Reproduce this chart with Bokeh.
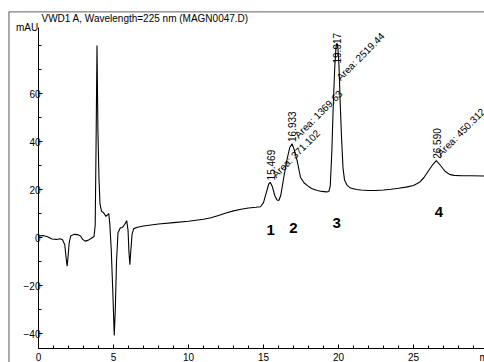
import math
from bokeh.plotting import figure
from bokeh.models import ColumnDataSource, LinearAxis, Range1d, FixedTicker, Label, Span
from bokeh.core.properties import value
from bokeh.embed import file_html
from bokeh.resources import INLINE

# ---- data ----
time_min = [0.0, 0.3, 0.6, 0.9, 1.2, 1.45, 1.6, 1.75, 1.85, 1.91,
            1.97, 2.05, 2.15, 2.35, 2.6, 2.8, 2.95, 3.1, 3.3, 3.5,
            3.7, 3.78, 3.84, 3.9, 3.96, 4.03, 4.1, 4.2, 4.35, 4.5,
            4.6, 4.68, 4.75, 4.85, 4.95, 5.05, 5.12, 5.2, 5.3, 5.45,
            5.6, 5.75, 5.88, 5.97, 6.03, 6.09, 6.16, 6.24, 6.35, 6.6,
            7.0, 8.0, 9.0, 10.0, 11.0, 11.5, 12.0, 12.5, 13.0, 13.5,
            14.0, 14.5, 14.8, 15.0, 15.2, 15.35, 15.45, 15.6, 15.75, 15.9,
            16.02, 16.15, 16.35, 16.55, 16.75, 16.91, 17.05, 17.24, 17.47, 17.7,
            17.91, 18.2, 18.58, 18.9, 19.2, 19.36, 19.45, 19.55, 19.65, 19.75,
            19.83, 19.89, 19.95, 20.03, 20.12, 20.2, 20.3, 20.4, 20.58, 20.8,
            21.2, 21.5, 22.0, 22.5, 23.0, 23.5, 24.0, 24.5, 25.0, 25.4,
            25.7, 26.0, 26.3, 26.52, 26.8, 27.1, 27.4, 27.7, 28.2, 28.8,
            29.73]
signal_mau = [0.6, 0.8, 0.3, -0.6, -0.8, -0.5, -0.9, -3.0, -9.0, -12.0,
              -8.0, -2.0, 0.6, 1.3, 1.2, 0.6, -0.8, -1.5, -1.2, -0.4,
              0.4, 5.0, 40.0, 80.0, 45.0, 25.0, 14.0, 11.0, 10.2, 8.8,
              9.4, 10.0, 6.0, -5.0, -22.0, -40.8, -30.0, -10.0, 2.0, 4.0,
              4.2, 5.5, 7.0, 3.0, -6.0, -11.3, -5.0, 1.5, 3.7, 4.3,
              4.8, 5.6, 6.2, 6.8, 7.6, 8.2, 9.2, 10.2, 11.1, 11.8,
              12.3, 12.6, 12.8, 14.5, 19.0, 22.3, 23.0, 21.0, 17.5, 15.6,
              15.4, 17.5, 25.0, 32.0, 37.5, 39.0, 36.5, 32.0, 25.0, 22.8,
              21.7, 20.4, 19.6, 19.2, 19.0, 19.2, 21.5, 35.0, 55.0, 71.0,
              79.0, 81.0, 80.0, 72.0, 55.0, 42.0, 29.0, 24.0, 21.7, 20.6,
              20.0, 19.8, 19.6, 19.6, 19.8, 20.1, 20.5, 21.0, 21.7, 23.0,
              25.0, 27.8, 30.5, 32.0, 30.0, 27.6, 26.3, 25.9, 25.7, 25.7,
              25.6]

peak_numbers = ["1", "2", "3", "4"]
peak_rt = [15.469, 16.933, 19.917, 26.590]
peak_area = [371.102, 1369.63, 2519.44, 450.312]

x_ticks = [0, 5, 10, 15, 20, 25]
y_ticks = [-40, -20, 0, 20, 40, 60]

title_text = "VWD1 A, Wavelength=225 nm (MAGN0047.D)"
y_unit = "mAU"
x_unit = "min"

# ---- annotation placement (layout, not data) ----
rt_label_y = [23.8, 39.8, 72.5, 32.8]
area_label_x = [15.95, 17.45, 20.25, 26.95]
area_label_y = [24.0, 40.5, 64.5, 33.0]
number_x = [15.47, 16.99, 19.87, 26.7]
number_y = [3.3, 4.0, 6.0, 10.8]

FONT = "Liberation Sans"
X_LO, X_HI = -2.0, 29.733
Y_LO, Y_HI = -52.083, 94.167
X_AXIS_AT = -46.25
Y_AXIS_TOP = 87.5

p = figure(width=484, height=362, output_backend="svg", toolbar_location=None,
           x_range=Range1d(X_LO, X_HI), y_range=Range1d(Y_LO, Y_HI),
           x_axis_location=None, y_axis_location=None, tools="")
p.min_border_left = 8
p.min_border_right = 0
p.min_border_bottom = 0
p.min_border_top = 11
p.outline_line_color = None
p.background_fill_color = "white"
p.border_fill_color = "white"
p.xgrid.visible = False
p.ygrid.visible = False

xaxis = LinearAxis(fixed_location=X_AXIS_AT, bounds=(0, X_HI),
                   ticker=FixedTicker(ticks=x_ticks, minor_ticks=list(range(0, 30))))
yaxis = LinearAxis(fixed_location=0, bounds=(X_AXIS_AT, Y_AXIS_TOP),
                   ticker=FixedTicker(ticks=y_ticks, minor_ticks=list(range(-40, 90, 10))))
for ax in (xaxis, yaxis):
    ax.axis_line_color = "black"
    ax.major_tick_line_color = "black"
    ax.minor_tick_line_color = "black"
    ax.major_tick_in = 4
    ax.major_tick_out = 0
    ax.minor_tick_in = 3
    ax.minor_tick_out = 0
    ax.major_label_text_font = FONT
    ax.major_label_text_font_size = "10px"
    ax.major_label_text_color = "black"
xaxis.major_label_standoff = 4
yaxis.major_label_standoff = -2
p.add_layout(xaxis, "below")
p.add_layout(yaxis, "left")

# outer frame (top and left edges)
p.add_layout(Span(location=X_LO + 0.02, dimension="height", line_color="black", line_width=1))
p.add_layout(Span(location=Y_HI - 0.1, dimension="width", line_color="black", line_width=1))

p.line(time_min, signal_mau, line_color="black", line_width=1.1)

rt_src = ColumnDataSource(dict(x=peak_rt, y=rt_label_y, t=[f"{v:.3f}" for v in peak_rt]))
p.text(x="x", y="y", text="t", source=rt_src, angle=math.pi / 2,
       text_align="left", text_baseline="middle", text_font=value(FONT),
       text_font_size="10px", text_color="black")

area_src = ColumnDataSource(dict(x=area_label_x, y=area_label_y,
                                 t=[f"Area: {v:g}" for v in peak_area]))
p.text(x="x", y="y", text="t", source=area_src, angle=math.pi / 4,
       text_align="left", text_baseline="bottom", text_font=value(FONT),
       text_font_size="10px", text_color="black")

num_src = ColumnDataSource(dict(x=number_x, y=number_y, t=peak_numbers))
p.text(x="x", y="y", text="t", source=num_src, text_align="center",
       text_baseline="middle", text_font=value(FONT), text_font_size="15px",
       text_font_style="bold", text_color="black")

p.add_layout(Label(x=0.2, y=93.4, text=title_text, text_baseline="top",
                   text_font=FONT, text_font_size="10px", text_color="black"))
p.add_layout(Label(x=-0.02, y=Y_AXIS_TOP, text=y_unit, text_align="right",
                   text_baseline="middle", text_font=FONT, text_font_size="10px",
                   text_color="black"))
p.add_layout(Label(x=29.4, y=-47.9, text=x_unit, text_align="left",
                   text_baseline="top", text_font=FONT, text_font_size="10px",
                   text_color="black"))

open("out.html", "w").write(file_html(p, INLINE))
